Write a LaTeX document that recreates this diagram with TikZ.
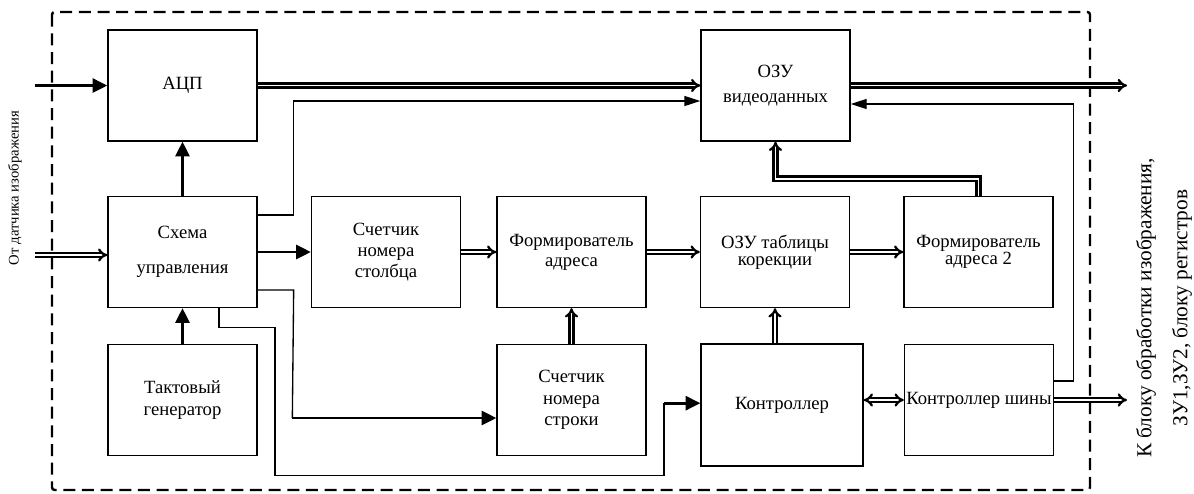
\documentclass[tikz,border=0pt]{standalone}
\usepackage{fontspec}
\setmainfont{Liberation Serif}
\usepackage{tikz}
\usetikzlibrary{arrows.meta,calc}

\begin{document}
\begin{tikzpicture}[
    x=0.75pt, y=-0.75pt,
    font=\fontsize{14pt}{16pt}\selectfont,
    block/.style={draw, line width=1pt, minimum width=111.75pt, minimum height=83.25pt, align=center, inner sep=1pt},
    wire/.style={line width=1pt},
    arr/.style={-{Triangle[length=12pt,width=7.5pt]}, line width=1pt},
    arrbold/.style={-{Triangle[length=11pt,width=10.5pt]}, line width=2pt},
    bus/.style={-{Implies[scale=1.5]}, double, double distance=1.4pt, line width=1.7pt},
    busboth/.style={bus, {Implies[scale=1.5]}-{Implies[scale=1.5]}},
    frame/.style={dash pattern=on 9pt off 5pt, line width=1.8pt, rounded corners=2pt},
    sidelabel/.style={rotate=90, align=center}
]
\useasboundingbox (0,0) rectangle (1194,493);
% Frame of the unit
\draw[frame] (52,12) rectangle (1090,490);
% Left column
\node[block] (adc) at (182.5,85.5) {АЦП};
\node[block] (ctrl) at (182.5,252) {Схема\\[10pt]управления};
\node[block] (clk) at (182.5,400) {Тактовый\\генератор};
% Middle row
\node[block] (colcnt) at (386,252) {Счетчик\\номера\\столбца};
\node[block] (addr) at (571.5,252) {Формирователь\\[-1pt]адреса};
\node[block] (lut) at (775,252) {ОЗУ таблицы\\[-3pt]корекции};
\node[block] (addr2) at (978.5,252) {Формирователь\\[-3pt]адреса 2};
% Top right
\node[block] (vram) at (775.5,85.5) {ОЗУ\\[3pt]видеоданных};
% Bottom row
\node[block] (rowcnt) at (571.5,400) {Счетчик\\номера\\строки};
\node[block, minimum width=121.5pt, minimum height=91.5pt] (mcu) at (782,405) {Контроллер};
\node[block] (buscu) at (979,400) {Контроллер шины};
% Outer labels
\node[sidelabel, font=\fontsize{11pt}{13pt}\selectfont] (src) at (15,188) {От датчика изображения};
\node[sidelabel, font=\fontsize{16pt}{18pt}\selectfont] (dst) at (1164,308) {К блоку обработки изображения,\\[9pt]ЗУ1,ЗУ2, блоку регистров};
\coordinate (inA) at (35,85.5);
\coordinate (inC) at (35,255);
\coordinate (outV) at (1127,85.5);
\coordinate (outB) at (1127,400);
% Inputs
\draw[arrbold, line width=1.6pt] (inA) -- (inA -| adc.west);
\draw[bus] (inC) -- (inC -| ctrl.west);
% Control scheme
\draw[arrbold] (ctrl) -- (adc);
\draw[arrbold] (clk) -- (ctrl);
\draw[arrbold] (ctrl) -- (colcnt);
\draw[arr] ($(ctrl.east)+(0,-37)$) -- ++(36,0) |- ($(vram.west)+(0,15.5)$);
\coordinate (k1) at ($(ctrl.east)+(36,38)$);
\coordinate (k2) at ($(rowcnt.west)+(-204,18)$);
\draw[wire] ($(ctrl.east)+(0,38)$) -- (k1) -- (k2);
\draw[arrbold] (k2) -- (k2 -| rowcnt.west);
\draw[wire] ($(ctrl.south)+(36.5,0)$) -- ++(0,19) -- ++(56,0) -- ++(0,148) -- ++(389,0) -- ++(0,-72) coordinate (k3);
\draw[arrbold] (k3) -- (k3 -| mcu.west);
% Address path
\draw[bus] (colcnt) -- (addr);
\draw[bus] (addr) -- (lut);
\draw[bus] (lut) -- (addr2);
\draw[bus] (rowcnt) -- (addr);
\draw[bus] (mcu.north -| lut.south) -- (lut.south);
\draw[bus] (addr2.north) |- ($(vram.south)+(0,37)$) -- (vram.south);
% Video data
\draw[bus] (adc.east) -- (vram.west);
\draw[bus] (vram.east) -- (outV);
% Bus controller
\draw[busboth] (mcu.east |- buscu.west) -- (buscu.west);
\draw[bus] (buscu.east) -- (outB);
\draw[arr] ($(buscu.east)+(0,-19)$) -- ++(19,0) |- ($(vram.east)+(0,18.5)$);
\end{tikzpicture}
\end{document}
